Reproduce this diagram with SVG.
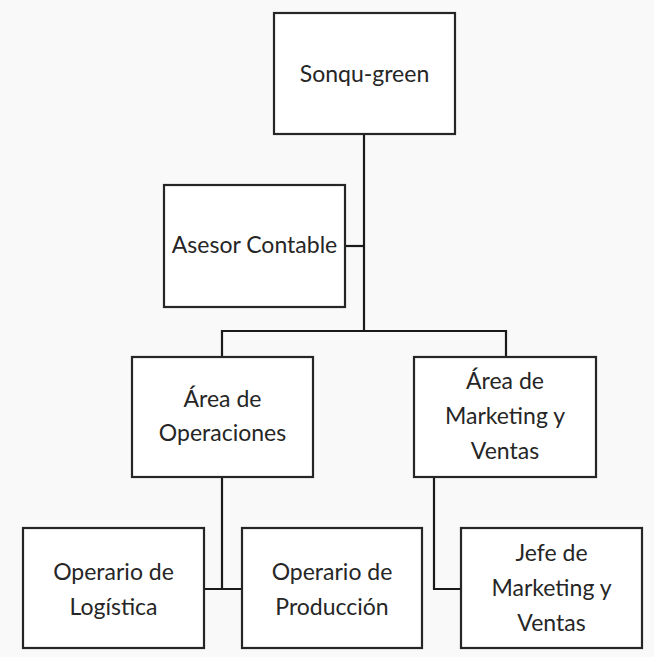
<svg xmlns="http://www.w3.org/2000/svg" width="654" height="657" viewBox="0 0 654 657">
<style>
.box{fill:#fff;stroke:#262626;stroke-width:2.2}
.ln{fill:none;stroke:#1a1a1a;stroke-width:2.2}
text{font-family:Lato,"Open Sans",sans-serif;font-size:23px;fill:#262626;text-anchor:middle}
</style>
<rect width="654" height="657" fill="#f9f9f9"/>
<g id="connectors">
<path class="ln" d="M364 134V331"/>
<path class="ln" d="M345 246H364"/>
<path class="ln" d="M222 357V331H506V357"/>
<path class="ln" d="M222 477V589"/>
<path class="ln" d="M204 589H242"/>
<path class="ln" d="M434 477V589H461"/>
</g>
<g id="sonqu"><rect class="box" x="274" y="13" width="181" height="121"/><text x="364.5" y="82">Sonqu-green</text></g>
<g id="asesor"><rect class="box" x="164" y="185" width="181" height="122"/><text x="254.5" y="253">Asesor Contable</text></g>
<g id="operaciones"><rect class="box" x="132" y="357" width="181" height="120"/><text x="222.5" y="407">Área de</text><text x="222.5" y="441">Operaciones</text></g>
<g id="marketing"><rect class="box" x="414" y="357" width="182" height="120"/><text x="505" y="389">Área de</text><text x="505" y="424">Marketing y</text><text x="505" y="459">Ventas</text></g>
<g id="logistica"><rect class="box" x="23" y="528" width="181" height="120"/><text x="113.5" y="580">Operario de</text><text x="113.5" y="615">Logística</text></g>
<g id="produccion"><rect class="box" x="242" y="528" width="180" height="120"/><text x="332" y="580">Operario de</text><text x="332" y="615">Producción</text></g>
<g id="jefe"><rect class="box" x="461" y="528" width="181" height="120"/><text x="551.5" y="561">Jefe de</text><text x="551.5" y="596">Marketing y</text><text x="551.5" y="631">Ventas</text></g>
</svg>
